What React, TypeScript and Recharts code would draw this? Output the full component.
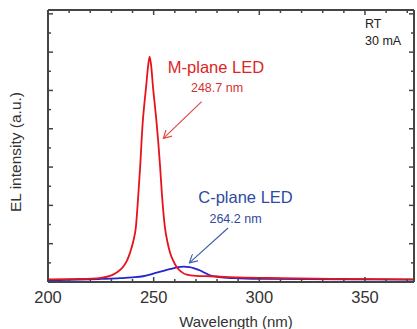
import React from 'react';
import { LineChart, Line, XAxis, YAxis, ReferenceLine } from 'recharts';

// M-plane LED spectrum (nm, a.u.)
const mPlaneWavelength = [
  200, 215, 225, 229.3, 231, 233, 235.5, 237.3, 238.8, 240.3, 241.6, 242.7, 243.6, 244.8, 245.6, 246.4, 247.3, 248.1,
  248.9, 249.7, 250.5, 251.4, 253.0, 253.9, 255.3, 256.5, 257.8, 259.3, 260.9, 263, 265.6, 270, 277, 290, 310, 340, 373,
];
const mPlaneIntensity = [
  0.07, 0.08, 0.11, 0.16, 0.2, 0.27, 0.39, 0.55, 0.76, 1.05, 1.44, 2.25, 3.0, 4.15, 4.65, 5.08, 5.6, 5.88,
  5.6, 5.08, 4.65, 4.15, 3.05, 2.3, 1.44, 1.05, 0.76, 0.55, 0.39, 0.27, 0.19, 0.16, 0.15, 0.12, 0.1, 0.08, 0.07,
];

// C-plane LED spectrum
const cPlaneWavelength = [
  200, 215, 225, 234, 240, 245, 249.8, 254.6, 258, 261, 264.2, 267, 269.5, 272, 274.5, 277, 281, 288, 300, 340, 373,
];
const cPlaneIntensity = [
  0.04, 0.06, 0.08, 0.1, 0.12, 0.15, 0.22, 0.29, 0.34, 0.38, 0.4, 0.39, 0.35, 0.3, 0.23, 0.17, 0.13, 0.1, 0.08, 0.07, 0.06,
];

const xTicks = [200, 210, 220, 230, 240, 250, 260, 270, 280, 290, 300, 310, 320, 330, 340, 350, 360, 370];
const xLabelTicks = [200, 250, 300, 350];
const yTicks = [0, 0.5, 1, 1.5, 2, 2.5, 3, 3.5, 4, 4.5, 5, 5.5, 6, 6.5, 7];

const mData = mPlaneWavelength.map((wl, i) => ({ wl, v: mPlaneIntensity[i] }));
const cData = cPlaneWavelength.map((wl, i) => ({ wl, v: cPlaneIntensity[i] }));

const FONT = '"Liberation Sans", Arial, sans-serif';
const AXIS = '#444';
const RED = '#e8121c';
const BLUE = '#2424d0';

const BottomTick = (p: any) => {
  const val = p.payload.value;
  const major = val % 50 === 0;
  return (
    <g>
      <line x1={p.x} y1={p.y} x2={p.x} y2={p.y - (major ? 5 : 3)} stroke={AXIS} strokeWidth={1.5} />
      {xLabelTicks.includes(val) && (
        <text x={p.x} y={p.y + 21} textAnchor="middle" fontSize={16.5} fill="#333" fontFamily={FONT}>
          {val}
        </text>
      )}
    </g>
  );
};

const TopTick = (p: any) => {
  const major = p.payload.value % 50 === 0;
  return <line x1={p.x} y1={p.y} x2={p.x} y2={p.y + (major ? 5 : 3)} stroke={AXIS} strokeWidth={1.5} />;
};

const LeftTick = (p: any) => {
  const major = Number.isInteger(p.payload.value);
  return <line x1={p.x} y1={p.y} x2={p.x + (major ? 5 : 3)} y2={p.y} stroke={AXIS} strokeWidth={1.5} />;
};

const RightTick = (p: any) => {
  const major = Number.isInteger(p.payload.value);
  return <line x1={p.x} y1={p.y} x2={p.x - (major ? 5 : 3)} y2={p.y} stroke={AXIS} strokeWidth={1.5} />;
};

export default function App() {
  const axisLine = { stroke: AXIS, strokeWidth: 2 };
  return (
    <div style={{ position: 'absolute', left: 0, top: 0, width: 417, height: 329, background: '#fff' }}>
      <LineChart width={417} height={329} margin={{ top: 9, right: 2, bottom: 17, left: 47 }}>
        <defs>
          <marker id="arrRed" viewBox="0 0 10 10" refX="9" refY="5" markerWidth="9" markerHeight="9" markerUnits="userSpaceOnUse" orient="auto">
            <path d="M0,0 L9,5 L0,10" fill="none" stroke="#e04848" strokeWidth={1.3} />
          </marker>
          <marker id="arrBlue" viewBox="0 0 10 10" refX="9" refY="5" markerWidth="9" markerHeight="9" markerUnits="userSpaceOnUse" orient="auto">
            <path d="M0,0 L9,5 L0,10" fill="none" stroke="#4060a8" strokeWidth={1.3} />
          </marker>
        </defs>
        <XAxis
          xAxisId="b"
          dataKey="wl"
          type="number"
          domain={[200, 373.2]}
          ticks={xTicks}
          interval={0}
          height={30}
          tickSize={0}
          tickMargin={0}
          tick={BottomTick}
          axisLine={axisLine}
          allowDataOverflow
        />
        <XAxis
          xAxisId="t"
          orientation="top"
          dataKey="wl"
          type="number"
          domain={[200, 373.2]}
          ticks={xTicks}
          interval={0}
          height={1}
          tickSize={0}
          tickMargin={0}
          tick={TopTick}
          axisLine={axisLine}
          allowDataOverflow
        />
        <YAxis
          yAxisId="l"
          type="number"
          domain={[0, 7.1]}
          ticks={yTicks}
          interval={0}
          width={1}
          tickSize={0}
          tickMargin={0}
          tick={LeftTick}
          axisLine={axisLine}
          allowDataOverflow
        />
        <YAxis
          yAxisId="r"
          orientation="right"
          type="number"
          domain={[0, 7.1]}
          ticks={yTicks}
          interval={0}
          width={1}
          tickSize={0}
          tickMargin={0}
          tick={RightTick}
          axisLine={axisLine}
          allowDataOverflow
        />
        <Line
          xAxisId="b"
          yAxisId="l"
          data={cData}
          dataKey="v"
          type="monotone"
          stroke={BLUE}
          strokeWidth={1.8}
          dot={false}
          isAnimationActive={false}
        />
        <Line
          xAxisId="b"
          yAxisId="l"
          data={mData}
          dataKey="v"
          type="monotone"
          stroke={RED}
          strokeWidth={1.8}
          dot={false}
          isAnimationActive={false}
        />
        <ReferenceLine
          xAxisId="b"
          yAxisId="l"
          segment={[{ x: 272.7, y: 4.71 }, { x: 254.6, y: 3.75 }]}
          stroke="#e04848"
          strokeWidth={1.2}
          markerEnd="url(#arrRed)"
        />
        <ReferenceLine
          xAxisId="b"
          yAxisId="l"
          segment={[{ x: 285.2, y: 1.41 }, { x: 266.9, y: 0.5 }]}
          stroke="#4060a8"
          strokeWidth={1.2}
          markerEnd="url(#arrBlue)"
        />
        <text x={216} y={73} textAnchor="middle" fontSize={16.5} fill="#e02424" fontFamily={FONT}>M-plane LED</text>
        <text x={217} y={92} textAnchor="middle" fontSize={12.5} fill="#d83030" fontFamily={FONT}>248.7 nm</text>
        <text x={245.5} y={203} textAnchor="middle" fontSize={16.5} fill="#2e4aa2" fontFamily={FONT}>C-plane LED</text>
        <text x={235.5} y={222.5} textAnchor="middle" fontSize={12.5} fill="#2e4aa2" fontFamily={FONT}>264.2 nm</text>
        <text x={365} y={28} fontSize={12.5} fill="#222" fontFamily={FONT}>RT</text>
        <text x={365} y={45} fontSize={12.5} fill="#222" fontFamily={FONT}>30 mA</text>
        <text x={236} y={327} textAnchor="middle" fontSize={15} fill="#333" fontFamily={FONT}>Wavelength (nm)</text>
        <text transform="translate(20.5,152) rotate(-90)" textAnchor="middle" fontSize={15.5} fill="#333" fontFamily={FONT}>
          EL intensity (a.u.)
        </text>
      </LineChart>
    </div>
  );
}
